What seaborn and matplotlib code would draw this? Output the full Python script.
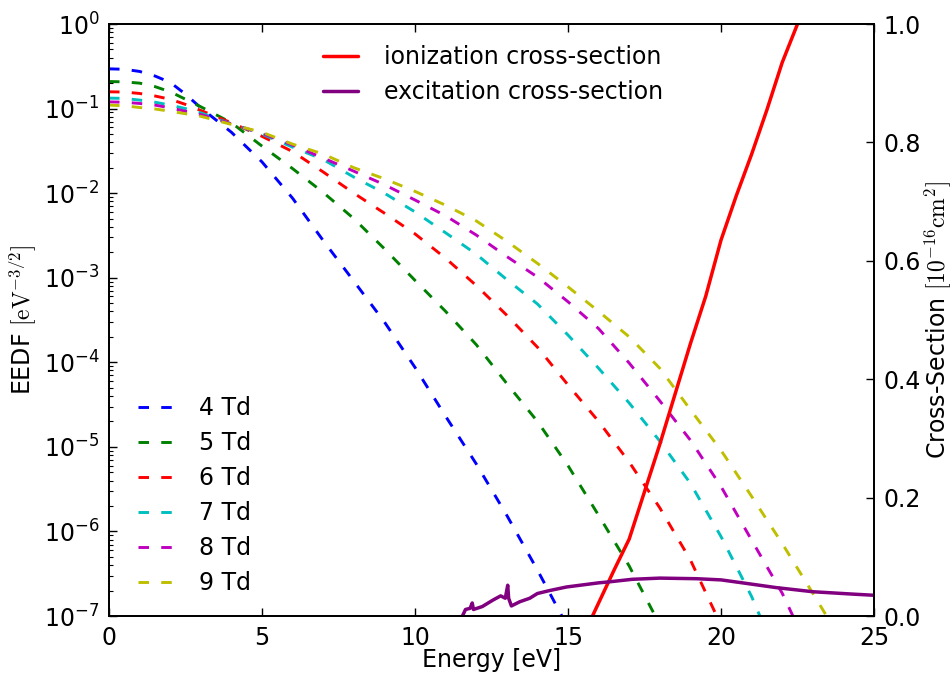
import matplotlib
matplotlib.use('Agg')
import numpy as np
import pandas as pd
import matplotlib.pyplot as plt
import seaborn as sns
from matplotlib.ticker import FixedLocator, LogLocator, NullFormatter

# EEDF curves (energy in eV, EEDF in eV^-3/2)
E4 = [0, 0.5, 1, 1.5, 2, 2.5, 3, 4, 5, 6, 7, 8, 9, 10, 11, 12, 13, 14, 14.8]
F4 = [2.95e-1, 2.92e-1, 2.75e-1, 2.43e-1, 2.04e-1, 1.48e-1, 1.02e-1, 5.25e-2,
      2.34e-2, 8.7e-3, 2.75e-3, 9.1e-4, 3.0e-4, 8.7e-5, 2.3e-5, 6.3e-6,
      1.55e-6, 3.5e-7, 1.0e-7]

E5 = [0, 0.5, 1, 1.5, 2, 2.5, 3, 4, 5, 6, 7, 8, 9, 10, 11, 12, 13, 14, 15,
      16, 17, 17.85]
F5 = [2.09e-1, 2.07e-1, 2.0e-1, 1.82e-1, 1.58e-1, 1.29e-1, 1.05e-1, 6.8e-2,
      3.6e-2, 1.95e-2, 1.02e-2, 5.0e-3, 2.2e-3, 9.3e-4, 4.0e-4, 1.62e-4,
      5.6e-5, 2.0e-5, 6.0e-6, 1.55e-6, 3.9e-7, 1.0e-7]

E6 = [0, 0.5, 1, 1.5, 2, 2.5, 3, 4, 5, 6, 7, 8, 9, 10, 11, 12, 13, 14, 15,
      16, 17, 18, 19, 19.86]
F6 = [1.58e-1, 1.57e-1, 1.51e-1, 1.41e-1, 1.29e-1, 1.12e-1, 9.5e-2, 6.8e-2,
      4.7e-2, 3.1e-2, 1.78e-2, 1.0e-2, 5.8e-3, 3.3e-3, 1.7e-3, 8.1e-4,
      3.6e-4, 1.51e-4, 5.4e-5, 2.0e-5, 6.6e-6, 1.9e-6, 4.6e-7, 1.0e-7]

E7 = [0, 0.5, 1, 1.5, 2, 2.5, 3, 4, 5, 6, 7, 8, 9, 10, 11, 12, 13, 14, 15,
      16, 17, 18, 19, 20, 21, 21.27]
F7 = [1.33e-1, 1.32e-1, 1.26e-1, 1.19e-1, 1.10e-1, 1.0e-1, 8.9e-2, 6.6e-2,
      5.0e-2, 3.5e-2, 2.5e-2, 1.55e-2, 1.0e-2, 6.0e-3, 3.4e-3, 1.9e-3,
      9.5e-4, 4.9e-4, 2.1e-4, 8.5e-5, 3.3e-5, 1.17e-5, 3.7e-6, 8.7e-7,
      1.7e-7, 1.0e-7]

E8 = [0, 0.5, 1, 1.5, 2, 2.5, 3, 4, 5, 6, 7, 8, 9, 10, 11, 12, 13, 14, 15,
      16, 17, 18, 19, 20, 21, 22, 22.35]
F8 = [1.20e-1, 1.19e-1, 1.15e-1, 1.10e-1, 1.02e-1, 9.3e-2, 8.5e-2, 6.6e-2,
      5.1e-2, 3.7e-2, 2.6e-2, 1.82e-2, 1.26e-2, 8.3e-3, 5.4e-3, 3.2e-3,
      1.78e-3, 1.02e-3, 5.2e-4, 2.5e-4, 9.8e-5, 3.5e-5, 1.2e-5, 3.4e-6,
      7.9e-7, 1.86e-7, 1.0e-7]

E9 = [0, 0.5, 1, 1.5, 2, 2.5, 3, 4, 5, 6, 7, 8, 9, 10, 11, 12, 13, 14, 15,
      16, 17, 18, 19, 20, 21, 22, 23, 23.45]
F9 = [1.10e-1, 1.08e-1, 1.03e-1, 9.9e-2, 9.3e-2, 8.7e-2, 8.1e-2, 6.5e-2,
      5.25e-2, 3.8e-2, 2.9e-2, 2.0e-2, 1.48e-2, 1.05e-2, 7.2e-3, 4.7e-3,
      2.7e-3, 1.48e-3, 7.8e-4, 4.0e-4, 2.0e-4, 8.5e-5, 2.75e-5, 9.1e-6,
      2.6e-6, 7.2e-7, 1.86e-7, 1.0e-7]

field_labels = ['4 Td', '5 Td', '6 Td', '7 Td', '8 Td', '9 Td']
field_colors = ['b', 'g', 'r', 'c', 'm', 'y']

# cross-sections (10^-16 cm^2)
ion_E = [15.8, 16.0, 16.5, 17.0, 17.5, 18.0, 18.5, 19.0, 19.5, 20.0, 20.5,
         21.0, 21.5, 22.0, 22.5]
ion_sigma = [0.0, 0.022, 0.077, 0.13, 0.21, 0.29, 0.375, 0.46, 0.54, 0.635,
             0.71, 0.78, 0.855, 0.935, 1.0]

exc_E = [11.55, 11.65, 11.8, 11.87, 11.91, 12.2, 12.55, 12.8, 12.95, 13.03,
         13.06, 13.15, 13.42, 13.75, 14.0, 14.4, 14.95, 15.4, 16.0, 16.4,
         17.1, 18.0, 19.2, 20.0, 20.7, 21.8, 23.0, 24.3, 25.0]
exc_sigma = [0.0, 0.011, 0.013, 0.022, 0.011, 0.016, 0.027, 0.034, 0.030,
             0.052, 0.030, 0.017, 0.024, 0.030, 0.038, 0.043, 0.049, 0.052,
             0.056, 0.058, 0.062, 0.064, 0.063, 0.061, 0.056, 0.048, 0.041,
             0.037, 0.035]

sns.set_style('ticks')
plt.rcParams['font.family'] = ['DejaVu Sans']
plt.rcParams['mathtext.fontset'] = 'cm'
plt.rcParams['xtick.direction'] = 'in'
plt.rcParams['ytick.direction'] = 'in'
for key in ['text.color', 'axes.labelcolor', 'xtick.color', 'ytick.color']:
    plt.rcParams[key] = 'black'

fig = plt.figure(figsize=(9.53, 6.77), dpi=100)
ax = fig.add_axes([0.1144, 0.0901, 0.8027, 0.8744])
ax2 = ax.twinx()

curves = [(E4, F4), (E5, F5), (E6, F6), (E7, F7), (E8, F8), (E9, F9)]
for (e, f), lab, col in zip(curves, field_labels, field_colors):
    df = pd.DataFrame({'E': e, 'f': f})
    sns.lineplot(data=df, x='E', y='f', ax=ax, color=col, lw=2.1,
                 dashes=False, label=lab)
for ln in ax.lines:
    ln.set_dashes((3.6, 4.2))
    ln.set_dash_capstyle('butt')

sns.lineplot(x=ion_E, y=ion_sigma, ax=ax2, color='red', lw=2.5,
             label='ionization cross-section')
sns.lineplot(x=exc_E, y=exc_sigma, ax=ax2, color='purple', lw=2.5,
             label='excitation cross-section')

ax.set_yscale('log')
ax.set_xlim(0, 25)
ax.set_ylim(1e-7, 1)
ax2.set_ylim(0, 1)

dec = np.arange(-7, 1)
ax.yaxis.set_major_locator(FixedLocator(10.0 ** dec))
ax.set_yticklabels([r'$\mathdefault{10^{%d}}$' % d for d in dec])
ax.yaxis.set_minor_locator(LogLocator(base=10, subs=np.arange(2, 10)))
ax.yaxis.set_minor_formatter(NullFormatter())
ax.set_xticks([0, 5, 10, 15, 20, 25])
ax2.set_yticks([0, 0.2, 0.4, 0.6, 0.8, 1.0])
ax2.set_yticklabels(['0.0', '0.2', '0.4', '0.6', '0.8', '1.0'])

ax.tick_params(axis='x', which='both', top=True, labelsize=17, pad=7,
               length=6, width=1)
ax.tick_params(axis='y', which='major', left=True, right=False,
               labelsize=17, length=6, width=1, pad=7)
ax.tick_params(axis='y', which='minor', left=True, right=False,
               length=3, width=0.8)
ax2.tick_params(axis='y', right=True, labelsize=17, length=6, width=1, pad=7)
for a in (ax, ax2):
    for s in a.spines.values():
        s.set_linewidth(1.3)
        s.set_color('black')

ax.set_xlabel('Energy [eV]', fontsize=17, labelpad=-1)
ax.set_ylabel(r'EEDF $[\mathrm{eV}^{-3/2}]$', fontsize=17, labelpad=3)
ax2.set_ylabel(r'Cross-Section $[10^{-16}\mathrm{cm}^2]$', fontsize=17,
               labelpad=1)

tr = fig.transFigure
ax.legend(loc='upper left', bbox_to_anchor=(138 / 953, 1 - 396 / 677),
          bbox_transform=tr, frameon=False, fontsize=17, handlelength=1.5,
          handletextpad=1.1, labelspacing=0.47, borderpad=0, borderaxespad=0)
ax2.legend(loc='upper left', bbox_to_anchor=(323 / 953, 1 - 45 / 677),
           bbox_transform=tr, frameon=False, fontsize=17, handlelength=1.5,
           handletextpad=1.1, labelspacing=0.47, borderpad=0, borderaxespad=0)

fig.savefig('out.png', dpi=100)
